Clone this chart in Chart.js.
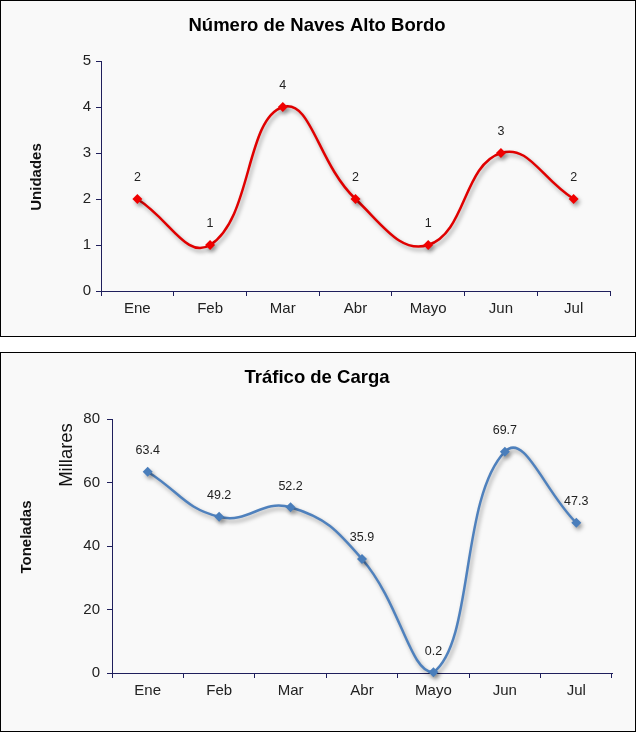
<!DOCTYPE html>
<html lang="es">
<head>
<meta charset="UTF-8">
<title>Naves y Carga</title>
<script src="https://cdn.jsdelivr.net/npm/chart.js"></script>
<style>
  body, html {
    margin: 0;
    background: #ffffff;
    font-family: "Liberation Sans", Arial, sans-serif;
  }
  .panel {
    position: absolute;
    left: 0;
    width: 634px;
    border: 1px solid #000;
    background: #f9f9f9;
  }
  #p1 { top: 0; height: 335px; }
  #p2 { top: 352px; height: 378px; }
</style>
</head>
<body>

<div class="panel" id="p1"><canvas id="navesChart"></canvas></div>
<div class="panel" id="p2"><canvas id="cargaChart"></canvas></div>

<script>
// datos
var meses = ['Ene', 'Feb', 'Mar', 'Abr', 'Mayo', 'Jun', 'Jul'];
var naves = [2, 1, 4, 2, 1, 3, 2];
var carga = [63.4, 49.2, 52.2, 35.9, 0.2, 69.7, 47.3];   // miles de toneladas

var AXIS = '#1f1f5c';
var FONT = '"Liberation Sans", Arial, sans-serif';

Chart.defaults.font.family = FONT;
Chart.defaults.color = '#222';

// sombra tipo Excel bajo las lineas
var lineShadow = {
  id: 'lineShadow',
  beforeDatasetsDraw: function(chart) {
    var ctx = chart.ctx;
    ctx.save();
    ctx.shadowColor = 'rgba(0,0,0,0.35)';
    ctx.shadowBlur = 4;
    ctx.shadowOffsetX = 2;
    ctx.shadowOffsetY = 3;
  },
  afterDatasetsDraw: function(chart) {
    chart.ctx.restore();
  }
};

// etiquetas de valor encima de cada punto
var pointLabels = {
  id: 'pointLabels',
  afterDraw: function(chart, args, opts) {
    var ctx = chart.ctx;
    chart.data.datasets.forEach(function(ds, i) {
      chart.getDatasetMeta(i).data.forEach(function(pt, j) {
        ctx.save();
        ctx.font = '12.5px ' + FONT;
        ctx.fillStyle = '#222';
        ctx.textAlign = 'center';
        ctx.textBaseline = 'middle';
        ctx.fillText(String(ds.data[j]), pt.x, pt.y - 21);
        ctx.restore();
      });
    });
  }
};

// titulo y textos de eje, centrados sobre el panel
var extraText = {
  id: 'extraText',
  afterDraw: function(chart, args, opts) {
    var ctx = chart.ctx;
    (opts.items || []).forEach(function(it) {
      ctx.save();
      ctx.translate(it.x, it.y);
      if (it.rot) ctx.rotate(-Math.PI / 2);
      ctx.font = it.font;
      ctx.fillStyle = it.color || '#111';
      ctx.textAlign = 'center';
      ctx.textBaseline = 'middle';
      ctx.fillText(it.text, 0, 0);
      ctx.restore();
    });
  }
};

function baseScales(yMin, yMax, step, yWidth, xHeight) {
  return {
    x: {
      offset: true,
      grid: { offset: true, drawOnChartArea: false, drawTicks: true, tickLength: 5, color: AXIS },
      border: { color: AXIS, width: 1 },
      ticks: { padding: 4, color: '#222', font: { size: 15 } },
      afterFit: function(s) { s.height = xHeight; }
    },
    y: {
      min: yMin, max: yMax,
      grid: { drawOnChartArea: false, drawTicks: true, tickLength: 5, color: AXIS },
      border: { color: AXIS, width: 1 },
      ticks: { stepSize: step, padding: 5, color: '#222', font: { size: 15 } },
      afterFit: function(s) { s.width = yWidth; }
    }
  };
}

// grafico 1
var s1 = baseScales(0, 5, 1, 100, 45);

new Chart(document.getElementById('navesChart'), {
  type: 'line',
  data: {
    labels: meses,
    datasets: [{
      label: 'Naves',
      data: naves,
      borderColor: '#e00000',
      backgroundColor: '#f00000',
      borderWidth: 2.5,
      tension: 0.45,
      pointStyle: 'rectRot',
      pointRadius: 5,
      pointBorderWidth: 0,
      clip: false
    }]
  },
  options: {
    responsive: true,
    maintainAspectRatio: false,
    animation: false,
    layout: { padding: { left: 0, right: 25, top: 60, bottom: 0 } },
    plugins: {
      legend: { display: false },
      tooltip: { enabled: false },
      extraText: {
        items: [
          { text: 'Número de Naves Alto Bordo', x: 316, y: 25, font: 'bold 18.5px ' + FONT, color: '#000' },
          { text: 'Unidades', x: 36, y: 176, rot: true, font: 'bold 15px ' + FONT }
        ]
      }
    },
    scales: s1
  },
  plugins: [lineShadow, pointLabels, extraText]
});

// grafico 2
var s2 = baseScales(0, 80, 20, 111, 58);
s2.y.ticks.padding = 7;

new Chart(document.getElementById('cargaChart'), {
  type: 'line',
  data: {
    labels: meses,
    datasets: [{
      label: 'Carga',
      data: carga,
      borderColor: '#4f81bd',
      backgroundColor: '#4a7ebb',
      borderWidth: 2.5,
      tension: 0.45,
      pointStyle: 'rectRot',
      pointRadius: 5,
      pointBorderWidth: 0,
      clip: false
    }]
  },
  options: {
    responsive: true,
    maintainAspectRatio: false,
    animation: false,
    layout: { padding: { left: 0, right: 23, top: 66, bottom: 0 } },
    plugins: {
      legend: { display: false },
      tooltip: { enabled: false },
      extraText: {
        items: [
          { text: 'Tráfico de Carga', x: 316, y: 25, font: 'bold 18.5px ' + FONT, color: '#000' },
          { text: 'Millares', x: 66, y: 102, rot: true, font: '18.5px ' + FONT },
          { text: 'Toneladas', x: 26, y: 184, rot: true, font: 'bold 15px ' + FONT }
        ]
      }
    },
    scales: s2
  },
  plugins: [lineShadow, pointLabels, extraText]
});
</script>
</body>
</html>
